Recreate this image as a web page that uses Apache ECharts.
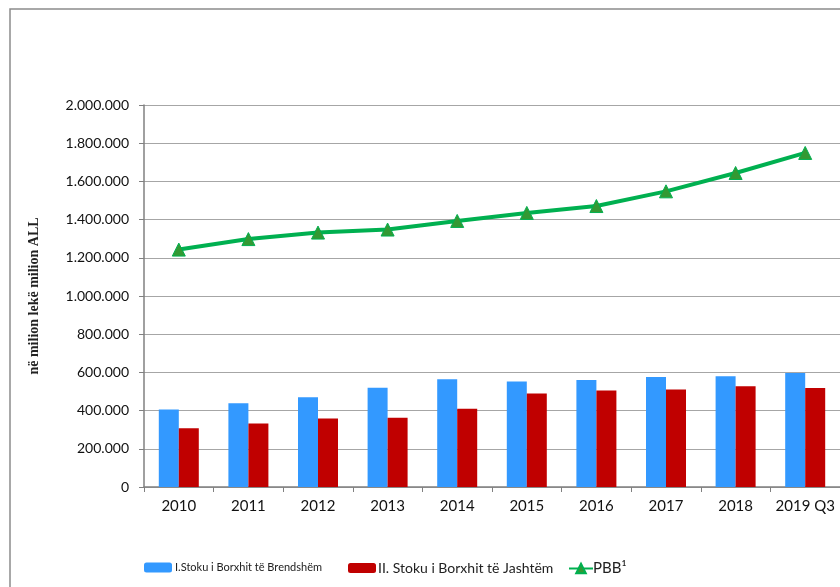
<!DOCTYPE html>
<html>
<head>
<meta charset="utf-8">
<script src="https://cdn.jsdelivr.net/npm/echarts@6/dist/echarts.min.js"></script>
<style>html,body{margin:0;padding:0;background:#fff;}#c{width:840px;height:587px;}</style>
</head>
<body>
<div id="c"></div>
<script>
var categories = ['2010','2011','2012','2013','2014','2015','2016','2017','2018','2019 Q3'];
var domesticDebt = [406000, 438000, 470000, 520000, 564000, 552000, 560000, 576000, 580000, 597000];
var foreignDebt = [307000, 333000, 358000, 363000, 410000, 489000, 505000, 510000, 527000, 518000];
var gdp = [1243000, 1298000, 1332000, 1348000, 1393000, 1435000, 1471000, 1548000, 1644000, 1749000];
var yTicks = [0, 200000, 400000, 600000, 800000, 1000000, 1200000, 1400000, 1600000, 1800000, 2000000];
var seriesNames = ['I.Stoku i Borxhit të Brendshëm', 'II. Stoku i Borxhit të Jashtëm', 'PBB¹'];
var yAxisName = 'në milion lekë milion ALL';

function fmt(v){ return String(v).replace(/\B(?=(\d{3})+(?!\d))/g, '.'); }

var chart = echarts.init(document.getElementById('c'), null, {renderer:'canvas'});
var font = 'Lato, "Liberation Sans", sans-serif';
chart.setOption({
  animation: false,
  backgroundColor: '#fff',
  graphic: [{
    type: 'rect', shape: {x: 10, y: 9, width: 900, height: 700},
    style: {fill: 'none', stroke: '#8c8c8c', lineWidth: 1.5}, silent: true, z: -1
  }],
  grid: {left: 144, top: 105, right: -2, bottom: 100},
  legend: [
    {data: [seriesNames[0]], left: 139, top: 557, itemWidth: 28, itemHeight: 10,
     textStyle: {fontFamily: font, fontSize: 11, color: '#222', padding: [0,0,0,-2]}},
    {data: [seriesNames[1]], left: 343, top: 556, itemWidth: 28, itemHeight: 10,
     textStyle: {fontFamily: font, fontSize: 14, color: '#222', padding: [0,0,0,-3]}},
    {data: [seriesNames[2]], left: 563, top: 556, itemWidth: 24, itemHeight: 12,
     textStyle: {fontFamily: font, fontSize: 15, color: '#222', padding: [0,0,0,-5]}}
  ],
  xAxis: {
    type: 'category', data: categories,
    axisLine: {lineStyle: {color: '#808080', width: 1.5}},
    axisTick: {show: true, length: 5, lineStyle: {color: '#808080'}},
    axisLabel: {fontFamily: font, fontSize: 15, color: '#111', margin: 12, interval: 0}
  },
  yAxis: {
    type: 'value', min: 0, max: 2000000, interval: 200000,
    name: yAxisName, nameLocation: 'middle', nameGap: 103, nameRotate: 90,
    nameTextStyle: {fontFamily: '"Liberation Serif", "DejaVu Serif", serif', fontWeight: 'bold', fontSize: 14, color: '#222'},
    axisLine: {show: true, lineStyle: {color: '#808080', width: 1.5}},
    axisTick: {show: true, length: 5, lineStyle: {color: '#808080'}},
    splitLine: {lineStyle: {color: '#a6a6a6', width: 1.2}},
    axisLabel: {fontFamily: font, fontSize: 14, color: '#111', margin: 15,
      formatter: function(v){ return yTicks.indexOf(v) >= 0 ? fmt(v) : ''; }}
  },
  series: [
    {name: seriesNames[0], type: 'bar', data: domesticDebt, barWidth: 20, barGap: '0%',
     itemStyle: {color: '#3399ff'}},
    {name: seriesNames[1], type: 'bar', data: foreignDebt, barWidth: 20,
     itemStyle: {color: '#c00000'}},
    {name: seriesNames[2], type: 'line', data: gdp, symbol: 'triangle', symbolSize: 13,
     lineStyle: {color: '#00b050', width: 4},
     itemStyle: {color: '#339933', borderColor: '#00b050', borderWidth: 1}, z: 5}
  ]
});
</script>
</body>
</html>
